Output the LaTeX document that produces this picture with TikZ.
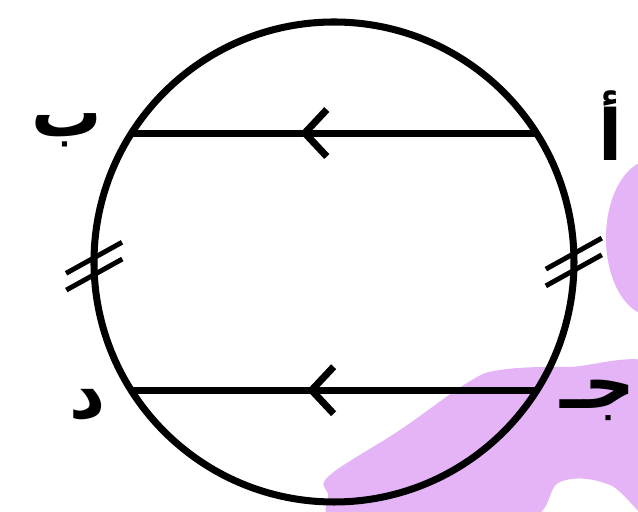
\documentclass[tikz,border=0pt]{standalone}
\usepackage{fontspec}
\usepackage{tikz}
\usetikzlibrary{arrows.meta, calc, decorations.markings}
\TeXXeTstate=1
\newfontfamily\arabicfont[Script=Arabic]{DejaVu Sans}
\definecolor{mydark}{RGB}{0,0,0}
\definecolor{mylilac}{RGB}{228,180,246}
\tikzset{
  rim/.style={draw=mydark, line width=4pt},
  chord/.style={draw=mydark, line width=4pt},
  flowmark/.style={decoration={markings, mark=at position #1 with {\arrow{Straight Barb[length=4.4mm, width=9.4mm]}}}, postaction={decorate}},
  tickmk/.style={draw=mydark, line width=2.8pt},
  blob/.style={fill=mylilac, draw=none},
  lbl/.style={font=\arabicfont\bfseries\fontsize{40}{48}\selectfont, inner sep=0pt}
}

\begin{document}
\begin{tikzpicture}[x=0.2mm, y=0.2mm]
  \useasboundingbox (-334,-250) rectangle (304,262);

  \fill[blob] plot[smooth cycle, tension=0.6] coordinates {(-4,-213) (66,-168) (133,-121) (166,-108) (233,-105) (330,-110) (330,-260) (276,-223) (226,-220) (186,-260) (11,-260) (-6,-232)};
  \fill[blob] (318,24) ellipse [x radius=46, y radius=78];

  \coordinate (O) at (0,0);
  \draw[rim] (O) circle [radius=240];

  \coordinate (A) at (32.5:240);
  \coordinate (B) at (147.5:240);
  \coordinate (C) at (-32.3:240);
  \coordinate (D) at (212.3:240);

  \draw[chord, flowmark=0.584] (A) -- (B);
  \draw[chord, flowmark=0.567] (C) -- (D);

  \coordinate (L1) at (179:240);
  \coordinate (L2) at (183:240);
  \coordinate (R1) at (2:240);
  \coordinate (R2) at (-2:240);
  \foreach \p in {L1, L2, R1, R2}
    \draw[tickmk] ([shift={(29:-32)}]\p) -- ([shift={(29:32)}]\p);

  \node[lbl] (lb) at (-267,132) {\beginR ب\endR};
  \node[lbl] (la) at (277,136) {\beginR أ\endR};
  \node[lbl] (ld) at (-246,-143) {\beginR د\endR};
  \node[lbl, anchor=east] (lc) at (302,-138) {\beginR جـ\endR};
\end{tikzpicture}
\end{document}
